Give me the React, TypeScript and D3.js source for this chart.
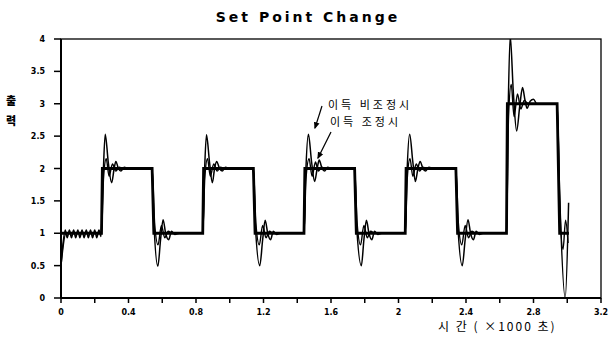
import React from 'react';
import * as d3 from 'd3';

// axis ticks
const xTicks = [0, 0.2, 0.4, 0.6, 0.8, 1.0, 1.2, 1.4, 1.6, 1.8, 2.0, 2.2, 2.4, 2.6, 2.8, 3.0, 3.2];
const xTickLabels = ['0', '0.4', '0.8', '1.2', '1.6', '2', '2.4', '2.8', '3.2'];
const yTicks = [0, 0.5, 1, 1.5, 2, 2.5, 3, 3.5, 4];
const yTickLabels = ['0', '0.5', '1', '1.5', '2', '2.5', '3', '3.5', '4'];

// set point (time x1000 s, output)
const setPoint: [number, number][] = [
  [0, 1], [0.24, 1], [0.245, 2], [0.54, 2], [0.55, 1], [0.84, 1], [0.845, 2],
  [1.14, 2], [1.15, 1], [1.44, 1], [1.445, 2], [1.74, 2], [1.75, 1], [2.04, 1],
  [2.045, 2], [2.34, 2], [2.35, 1], [2.64, 1], [2.645, 3], [2.94, 3], [2.955, 1], [3.01, 1],
];

// response, gain not tuned (이득 비조정시)
const untuned: [number, number][] = [
  [0, 0.5], [0.025, 1.05], [0.037, 0.93], [0.05, 1.05], [0.062, 0.93], [0.075, 1.05],
  [0.087, 0.93], [0.1, 1.05], [0.112, 0.93], [0.125, 1.05], [0.137, 0.93], [0.15, 1.05],
  [0.162, 0.93], [0.175, 1.05], [0.187, 0.93], [0.2, 1.05], [0.212, 0.93], [0.225, 1.05], [0.237, 0.95],
  [0.25, 1.9], [0.262, 2.53], [0.28, 2.1], [0.3, 1.78], [0.315, 2.0], [0.325, 2.11], [0.34, 2.0],
  [0.355, 1.96], [0.375, 2.02], [0.4, 2.0], [0.54, 2.0],
  [0.55, 1.2], [0.574, 0.49], [0.59, 0.9], [0.605, 1.21], [0.62, 1.0], [0.638, 0.9], [0.655, 1.03],
  [0.675, 0.98], [0.7, 1.0], [0.84, 1.0],
  [0.85, 1.9], [0.862, 2.52], [0.88, 2.1], [0.897, 1.78], [0.91, 2.0], [0.922, 2.11], [0.94, 2.0],
  [0.955, 1.96], [0.975, 2.02], [1.0, 2.0], [1.14, 2.0],
  [1.15, 1.2], [1.178, 0.5], [1.195, 0.9], [1.21, 1.2], [1.225, 1.0], [1.242, 0.9], [1.258, 1.03],
  [1.278, 0.98], [1.3, 1.0], [1.44, 1.0],
  [1.45, 1.9], [1.466, 2.53], [1.485, 2.1], [1.503, 1.8], [1.518, 2.0], [1.53, 2.13], [1.547, 2.0],
  [1.562, 1.96], [1.58, 2.02], [1.61, 2.0], [1.74, 2.0],
  [1.75, 1.2], [1.78, 0.5], [1.795, 0.9], [1.81, 1.2], [1.825, 1.0], [1.842, 0.9], [1.858, 1.03],
  [1.878, 0.98], [1.9, 1.0], [2.04, 1.0],
  [2.05, 1.9], [2.066, 2.53], [2.085, 2.1], [2.1, 1.8], [2.115, 2.0], [2.128, 2.11], [2.145, 2.0],
  [2.16, 1.96], [2.18, 2.02], [2.21, 2.0], [2.34, 2.0],
  [2.35, 1.2], [2.378, 0.5], [2.395, 0.9], [2.412, 1.21], [2.427, 1.0], [2.444, 0.9], [2.46, 1.03],
  [2.48, 0.98], [2.5, 1.0], [2.64, 1.0],
  [2.65, 2.9], [2.662, 4.05], [2.68, 3.2], [2.7, 2.58], [2.72, 3.0], [2.735, 3.25], [2.75, 3.05],
  [2.762, 2.93], [2.78, 3.04], [2.8, 3.07], [2.82, 3.0], [2.94, 3.0],
  [2.955, 1.6], [2.988, 0.0], [3.008, 1.47],
];

// response, gain tuned (이득 조정시)
const tuned: [number, number][] = [
  [0, 0.5], [0.03, 1.0], [0.24, 1.0],
  [0.252, 1.85], [0.268, 2.15], [0.285, 1.88], [0.305, 2.07], [0.325, 1.96], [0.345, 2.02], [0.37, 2.0], [0.54, 2.0],
  [0.555, 1.15], [0.575, 0.82], [0.595, 1.12], [0.615, 0.93], [0.635, 1.03], [0.66, 1.0], [0.84, 1.0],
  [0.852, 1.85], [0.868, 2.15], [0.885, 1.88], [0.905, 2.07], [0.925, 1.96], [0.945, 2.02], [0.97, 2.0], [1.14, 2.0],
  [1.155, 1.15], [1.175, 0.82], [1.195, 1.12], [1.215, 0.93], [1.235, 1.03], [1.26, 1.0], [1.44, 1.0],
  [1.452, 1.85], [1.47, 2.15], [1.488, 1.88], [1.508, 2.1], [1.525, 1.96], [1.545, 2.02], [1.57, 2.0], [1.74, 2.0],
  [1.755, 1.15], [1.775, 0.82], [1.795, 1.12], [1.815, 0.93], [1.835, 1.03], [1.86, 1.0], [2.04, 1.0],
  [2.052, 1.85], [2.068, 2.15], [2.085, 1.88], [2.105, 2.07], [2.125, 1.96], [2.145, 2.02], [2.17, 2.0], [2.34, 2.0],
  [2.355, 1.15], [2.375, 0.82], [2.395, 1.12], [2.415, 0.93], [2.435, 1.03], [2.46, 1.0], [2.64, 1.0],
  [2.652, 2.8], [2.668, 3.3], [2.685, 2.8], [2.705, 3.15], [2.725, 2.92], [2.745, 3.05], [2.77, 3.0], [2.94, 3.0],
  [2.955, 1.5], [2.975, 0.75], [2.99, 1.2], [3.005, 0.85],
];

const W = 610;
const H = 337;

export default function App() {
  const x = d3.scaleLinear().domain([0, 3.2]).range([61, 601]);
  const y = d3.scaleLinear().domain([0, 4]).range([298, 39]);

  const step = d3.line<[number, number]>().x(d => x(d[0])).y(d => y(d[1]));
  const smooth = d3.line<[number, number]>()
    .x(d => x(d[0]))
    .y(d => y(d[1]))
    .curve(d3.curveMonotoneX);

  const tickFont = { fontFamily: 'DejaVu Sans, sans-serif', fontWeight: 700, fontSize: 8 } as const;
  const kr = 'Noto Sans CJK KR, sans-serif';

  return (
    <svg width={W} height={H} style={{ position: 'absolute', left: 0, top: 0, background: '#fff' }}>
      <defs>
        <clipPath id="plot">
          <rect x={x(0)} y={y(4)} width={x(3.2) - x(0)} height={y(0) - y(4)} />
        </clipPath>
        <marker id="arr" viewBox="0 0 10 10" refX="8" refY="5" markerWidth="6" markerHeight="6" orient="auto">
          <path d="M0,1 L10,5 L0,9 z" fill="#000" />
        </marker>
      </defs>

      <text x={308} y={22} textAnchor="middle" fontFamily="DejaVu Sans, sans-serif" fontWeight={700}
        fontSize={14} letterSpacing={3}>Set Point Change</text>

      {/* frame */}
      <rect x={x(0)} y={y(4)} width={x(3.2) - x(0)} height={y(0) - y(4)} fill="none" stroke="#000" strokeWidth={1.3} />
      <line x1={x(0)} x2={x(0)} y1={y(4)} y2={y(0)} stroke="#000" strokeWidth={2} />
      <line x1={x(0)} x2={x(3.2)} y1={y(0)} y2={y(0)} stroke="#000" strokeWidth={2} />

      {/* y axis */}
      {yTicks.map((t, i) => (
        <g key={'y' + t}>
          <line x1={x(0) - 7} x2={x(0)} y1={y(t)} y2={y(t)} stroke="#000" strokeWidth={1.5} />
          <text x={x(0) - 16} y={y(t) + 3} textAnchor="end" {...tickFont}>{yTickLabels[i]}</text>
        </g>
      ))}

      {/* x axis */}
      {xTicks.map(t => (
        <line key={'x' + t} x1={x(t)} x2={x(t)} y1={y(0)} y2={y(0) + 5} stroke="#000" strokeWidth={1.5} />
      ))}
      {xTickLabels.map(l => (
        <text key={'xl' + l} x={x(+l)} y={y(0) + 17} textAnchor="middle" {...tickFont}>{l}</text>
      ))}

      <text x={11} y={105} textAnchor="middle" fontFamily={kr} fontWeight={900} fontSize={11}>출</text>
      <text x={11} y={125} textAnchor="middle" fontFamily={kr} fontWeight={900} fontSize={11}>력</text>
      <text x={438} y={331} fontFamily={kr} fontSize={12} letterSpacing={2}>시 간 ( ×1000 초)</text>

      <g clipPath="url(#plot)" fill="none" stroke="#000">
        <path d={step(setPoint) ?? ''} strokeWidth={2.8} />
        <path d={smooth(tuned) ?? ''} strokeWidth={1.4} />
        <path d={smooth(untuned) ?? ''} strokeWidth={1.5} />
      </g>

      {/* annotations */}
      <text x={328} y={109} fontFamily={kr} fontSize={11} letterSpacing={3}>이득 비조정시</text>
      <text x={330} y={126} fontFamily={kr} fontSize={11} letterSpacing={3}>이득 조정시</text>
      <line x1={322} y1={106} x2={315} y2={128} stroke="#000" strokeWidth={1.2} markerEnd="url(#arr)" />
      <line x1={331} y1={132} x2={318} y2={158} stroke="#000" strokeWidth={1.2} markerEnd="url(#arr)" />
    </svg>
  );
}
